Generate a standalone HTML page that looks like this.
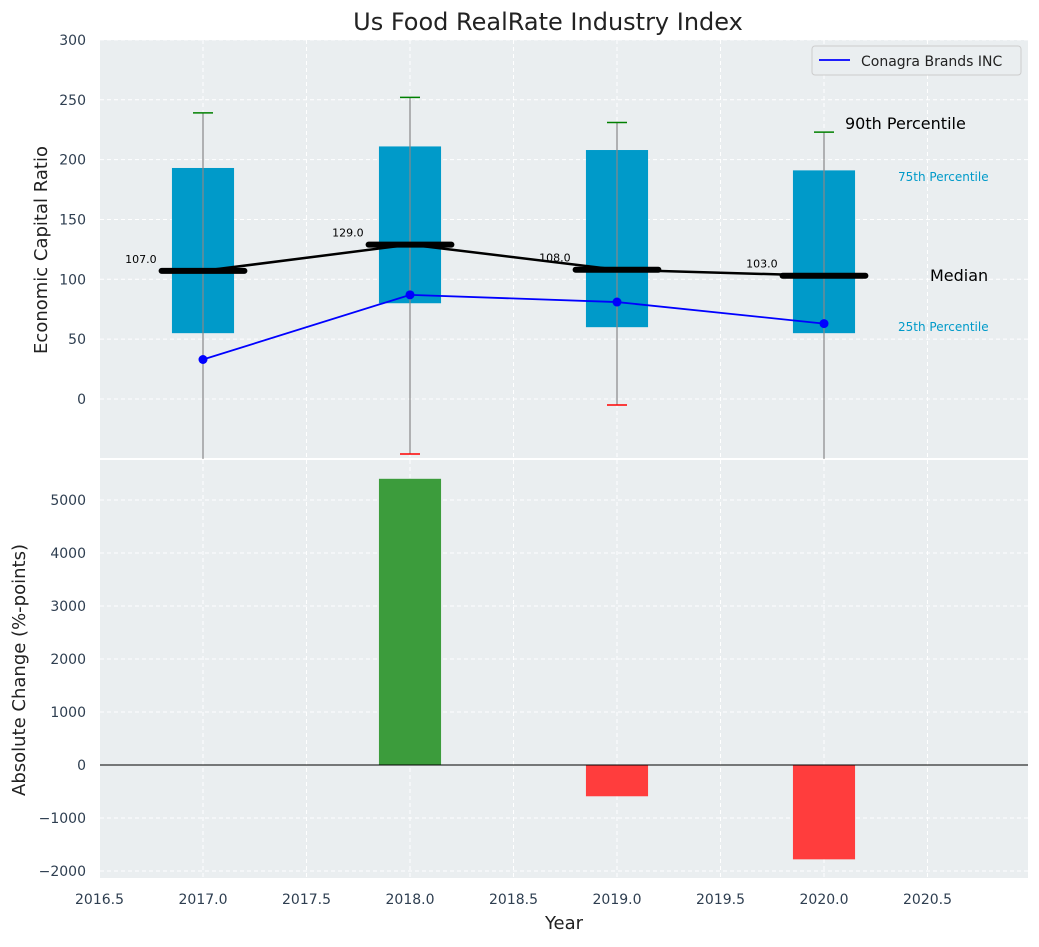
<!DOCTYPE html>
<html><head><meta charset="utf-8"><style>
body{margin:0;background:#fff;font-family:"Liberation Sans","DejaVu Sans",sans-serif;}
svg text{font-family:"DejaVu Sans","Liberation Sans",sans-serif;}
</style></head><body>
<svg id="c" width="1039" height="942" xmlns="http://www.w3.org/2000/svg"></svg>
<script>
const years=[2017,2018,2019,2020];
const q25=[55,80,60,55];
const q75=[193,211,208,191];
const p90=[239,252,231,223];
const p10=[-60,-46,-5,-60];
const medians=[107,129,108,103];
const company=[33,87,81,63];
const changes=[0,5400,-590,-1780];
const xTicks=[2016.5,2017.0,2017.5,2018.0,2018.5,2019.0,2019.5,2020.0,2020.5];
const topTicks=[0,50,100,150,200,250,300];
const botTicks=[-2000,-1000,0,1000,2000,3000,4000,5000];

const NS="http://www.w3.org/2000/svg";
const svg=document.getElementById('c');
function el(t,a,txt){const e=document.createElementNS(NS,t);for(const k in a)e.setAttribute(k,a[k]);if(txt!==undefined)e.textContent=txt;svg.appendChild(e);return e;}
const L=100,R=1028,T1=40,B1=458,T2=460,B2=878;
const x=v=>99.5+(v-2016.5)*207;
const y1=v=>399-v*1.197;
const y2=v=>765-v*0.053;

let e=el('rect',{x:L,y:T1,width:R-L,height:B1-T1,fill:'#eaeef0'});

e=el('rect',{x:L,y:T2,width:R-L,height:B2-T2,fill:'#eaeef0'});


xTicks.forEach(v=>{
 el('line',{x1:x(v),x2:x(v),y1:T1,y2:B1,stroke:'#fff','stroke-dasharray':'4,3'});
 el('line',{x1:x(v),x2:x(v),y1:T2,y2:B2,stroke:'#fff','stroke-dasharray':'4,3'});
 e=el('text',{x:x(v),y:904,'text-anchor':'middle','font-size':14,fill:'#2e3e50'},v.toFixed(1));
 
});
topTicks.forEach(v=>{
 el('line',{x1:L,x2:R,y1:y1(v),y2:y1(v),stroke:'#fff','stroke-dasharray':'4,3'});
 e=el('text',{x:86,y:y1(v)+5,'text-anchor':'end','font-size':14,fill:'#2e3e50'},v);
 
});
botTicks.forEach(v=>{
 el('line',{x1:L,x2:R,y1:y2(v),y2:y2(v),stroke:'#fff','stroke-dasharray':'4,3'});
 e=el('text',{x:86,y:y2(v)+5,'text-anchor':'end','font-size':14,fill:'#2e3e50'},(v<0?'\u2212'+(-v):v));
 
});

years.forEach((yr,i)=>{
 const cx=x(yr),hw=0.15*207;
 e=el('rect',{x:cx-hw,y:y1(q75[i]),width:2*hw,height:y1(q25[i])-y1(q75[i]),fill:'#009ac9'});
 
 const lo=Math.max(p10[i],-50);
 e=el('line',{x1:cx,x2:cx,y1:y1(p90[i]),y2:y1(lo),stroke:'#888','stroke-width':1.2});
 
 el('line',{x1:cx-10,x2:cx+10,y1:y1(p90[i]),y2:y1(p90[i]),stroke:'green','stroke-width':1.5});
 if(p10[i]>=-50) el('line',{x1:cx-10,x2:cx+10,y1:y1(p10[i]),y2:y1(p10[i]),stroke:'red','stroke-width':1.5});
 e=el('line',{x1:cx-0.2*207,x2:cx+0.2*207,y1:y1(medians[i]),y2:y1(medians[i]),stroke:'#000','stroke-width':6,'stroke-linecap':'round'});
 
 e=el('text',{x:cx-0.3*207,y:y1(medians[i])-8,'text-anchor':'middle','font-size':11,fill:'#000'},medians[i].toFixed(1));
 
 const v=changes[i];
 if(v!==0){e=el('rect',{x:cx-hw,y:Math.min(y2(v),y2(0)),width:2*hw,height:Math.abs(y2(v)-y2(0)),fill:v>0?'#3c9c3c':'#ff3d3d'});
 }
});
e=el('polyline',{points:years.map((yr,i)=>x(yr)+','+y1(medians[i])).join(' '),fill:'none',stroke:'#000','stroke-width':2.5});

e=el('polyline',{points:years.map((yr,i)=>x(yr)+','+y1(company[i])).join(' '),fill:'none',stroke:'blue','stroke-width':1.8});

years.forEach((yr,i)=>{e=el('circle',{cx:x(yr),cy:y1(company[i]),r:4.5,fill:'blue'});
 });
el('line',{x1:L,x2:R,y1:y2(0),y2:y2(0),stroke:'#000','stroke-width':1});

[['90th Percentile',845,129,16,'#000'],['75th Percentile',898,181,12,'#009ac9'],['Median',930,281,16,'#000'],['25th Percentile',898,331,12,'#009ac9']].forEach(a=>{
 e=el('text',{x:a[1],y:a[2],'font-size':a[3],fill:a[4]},a[0]);
 
});

e=el('rect',{x:812,y:46,width:209,height:29,fill:'#eaeef0',stroke:'#ccc',rx:3});

el('line',{x1:819,x2:850,y1:60,y2:60,stroke:'blue','stroke-width':1.8});
e=el('text',{x:861,y:66,'font-size':14,fill:'#222'},'Conagra Brands INC');


e=el('text',{x:548,y:30,'text-anchor':'middle','font-size':24,fill:'#222'},'Us Food RealRate Industry Index');

e=el('text',{x:47,y:250,'text-anchor':'middle','font-size':18,fill:'#222',transform:'rotate(-90 47 250)'},'Economic Capital Ratio');

e=el('text',{x:25,y:670,'text-anchor':'middle','font-size':18,fill:'#222',transform:'rotate(-90 25 670)'},'Absolute Change (%-points)');

e=el('text',{x:564,y:929,'text-anchor':'middle','font-size':18,fill:'#222'},'Year');

</script>
</body></html>
